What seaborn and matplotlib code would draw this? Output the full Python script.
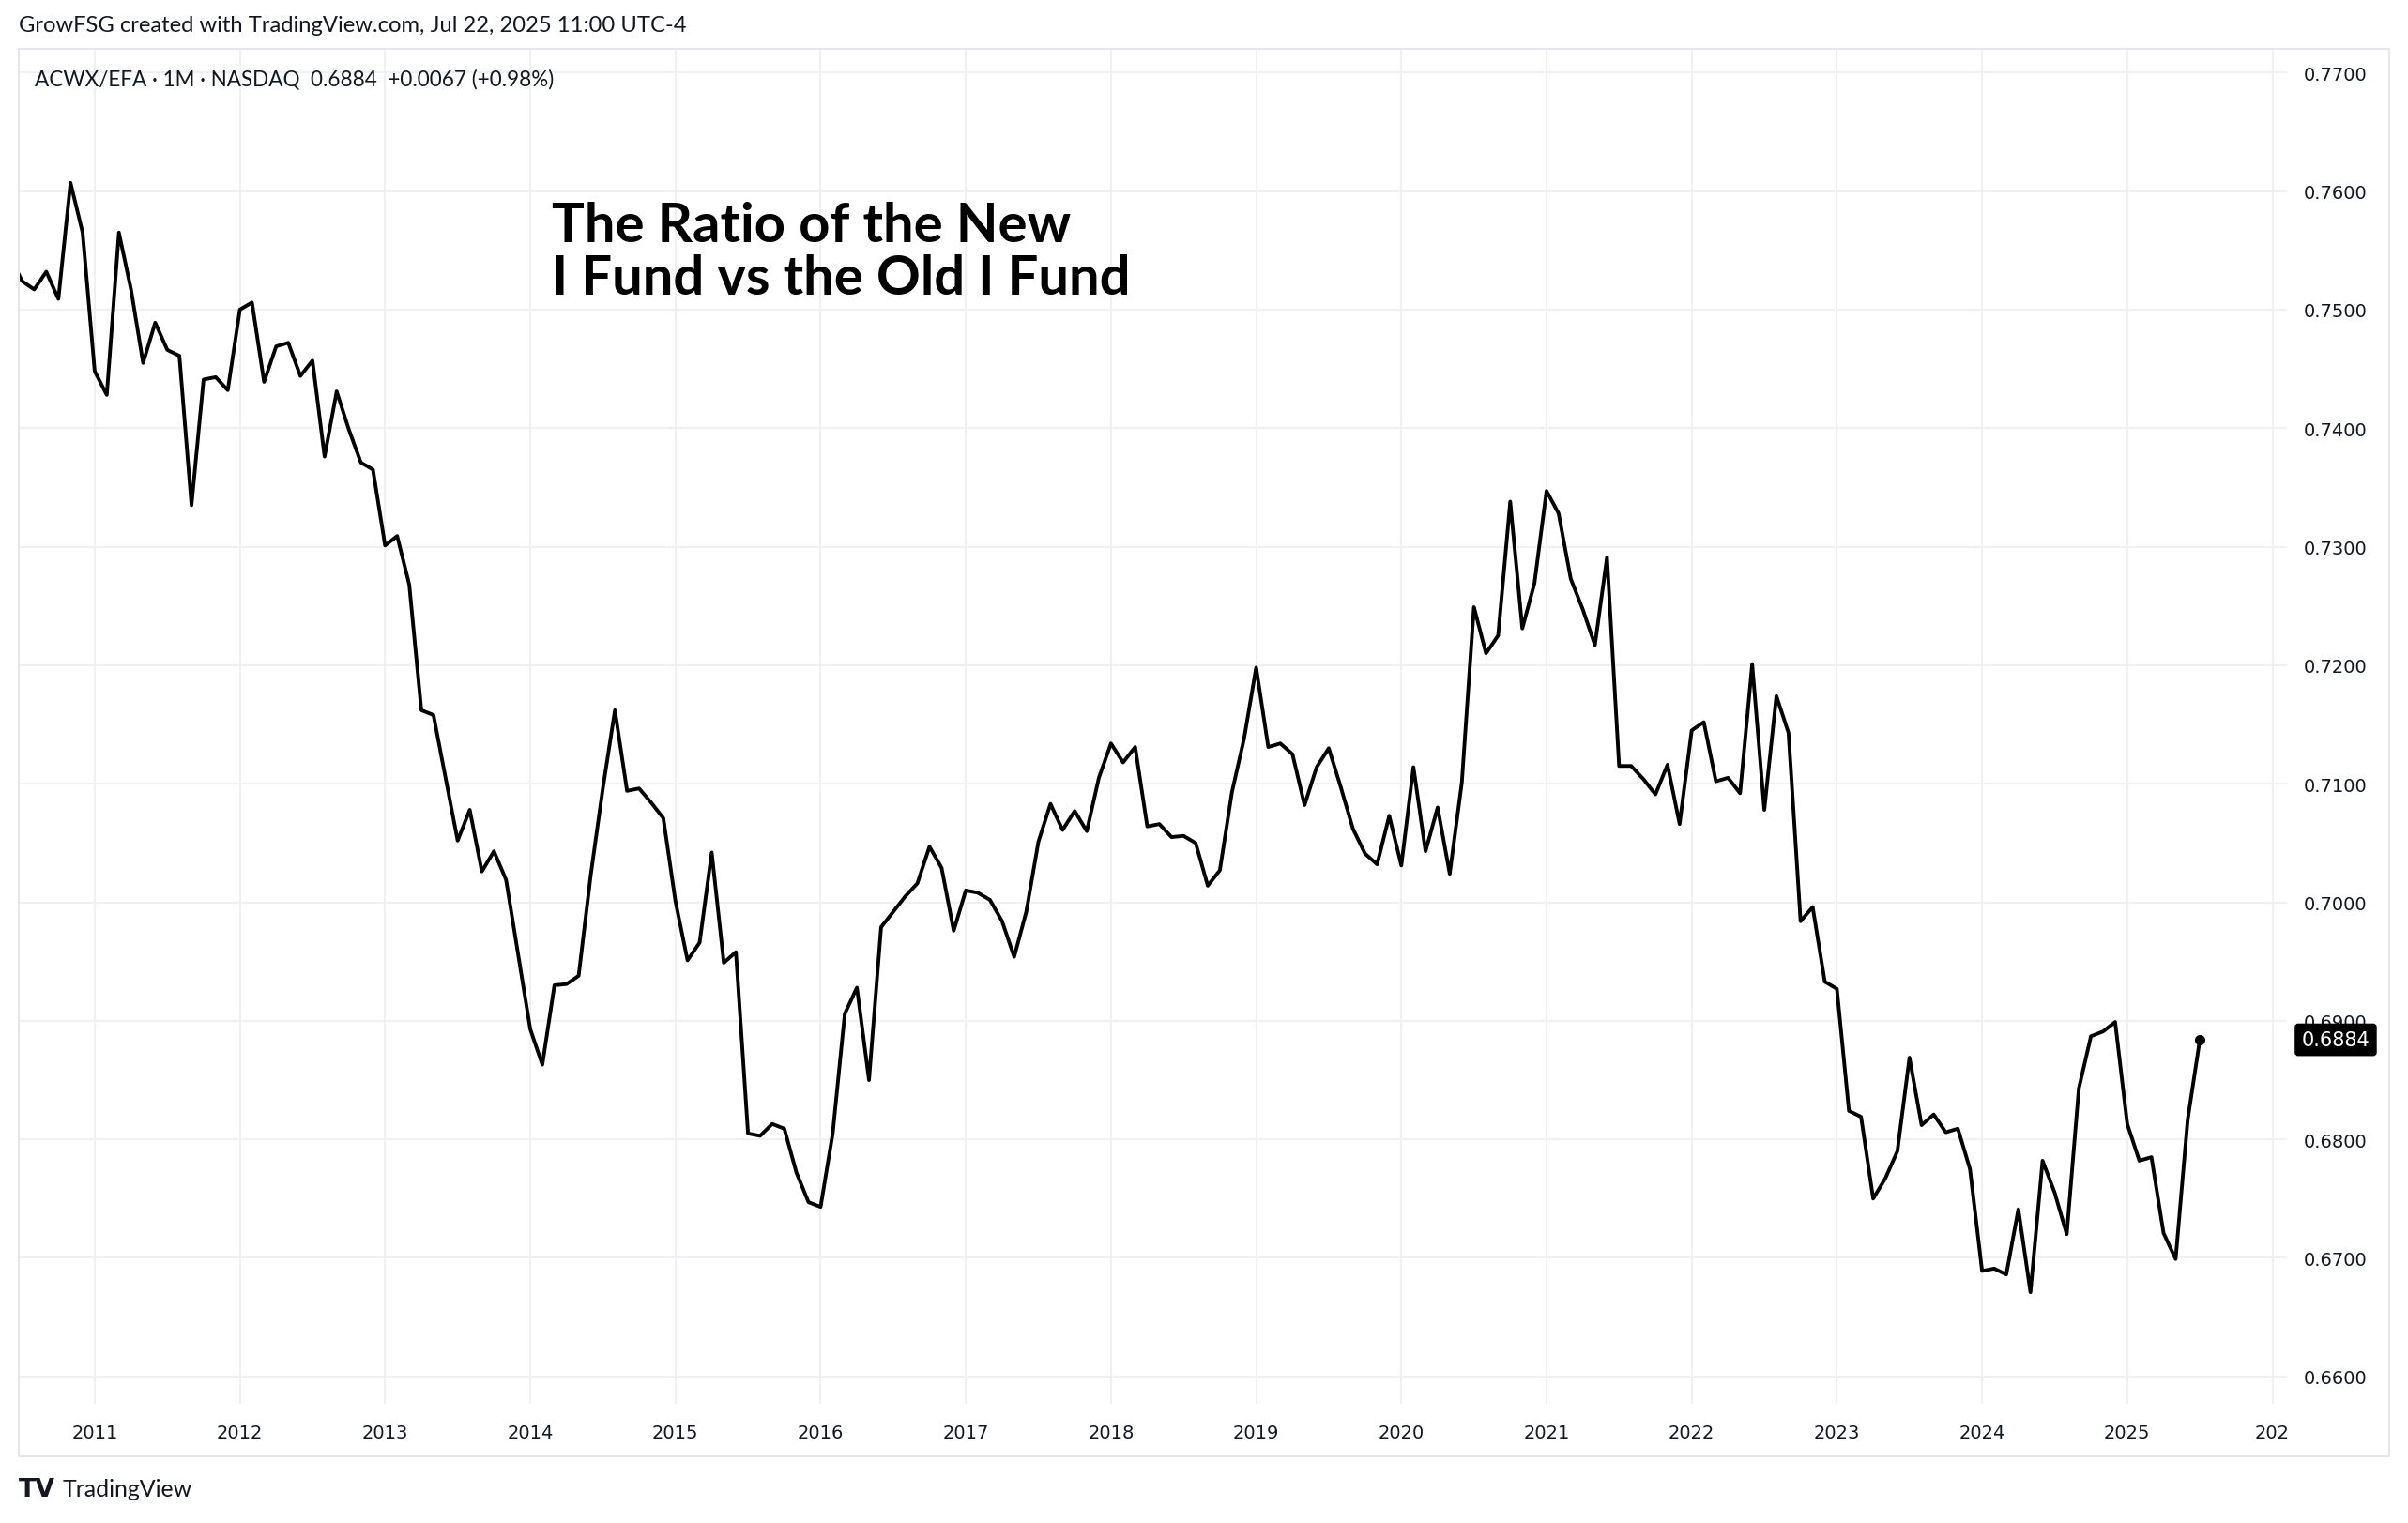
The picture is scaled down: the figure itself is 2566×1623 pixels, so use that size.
import numpy as np
import pandas as pd
import matplotlib
matplotlib.use("Agg")
import matplotlib.pyplot as plt
import matplotlib.patches as patches
import seaborn as sns

# ---------------------------------------------------------------------
# Dados: ACWX/EFA mensal (jun/2010 -> jul/2025)
# ---------------------------------------------------------------------
start_month = "2010-06"
ratio = [
    0.7545, 0.7524, 0.7517, 0.7532, 0.7509, 0.7607, 0.7565,
    0.7448, 0.7428, 0.7565, 0.7517, 0.7455, 0.7489, 0.7466, 0.7461, 0.7335, 0.7441, 0.7443, 0.7432,
    0.7500, 0.7506, 0.7439, 0.7469, 0.7472, 0.7444, 0.7457, 0.7376, 0.7431, 0.7399, 0.7371, 0.7365,
    0.7301, 0.7309, 0.7268, 0.7162, 0.7158, 0.7105, 0.7052, 0.7078, 0.7026, 0.7043, 0.7019, 0.6956,
    0.6893, 0.6863, 0.6930, 0.6931, 0.6938, 0.7023, 0.7096, 0.7162, 0.7094, 0.7096, 0.7084, 0.7071,
    0.7001, 0.6951, 0.6966, 0.7042, 0.6949, 0.6958, 0.6805, 0.6803, 0.6813, 0.6809, 0.6772, 0.6747,
    0.6743, 0.6805, 0.6906, 0.6928, 0.6850, 0.6979, 0.6992, 0.7005, 0.7016, 0.7047, 0.7029, 0.6976,
    0.7010, 0.7008, 0.7002, 0.6984, 0.6954, 0.6992, 0.7051, 0.7083, 0.7061, 0.7077, 0.7060, 0.7105,
    0.7134, 0.7118, 0.7131, 0.7064, 0.7066, 0.7055, 0.7056, 0.7050, 0.7014, 0.7027, 0.7093, 0.7138,
    0.7198, 0.7131, 0.7134, 0.7125, 0.7082, 0.7114, 0.7130, 0.7097, 0.7062, 0.7041, 0.7032, 0.7073,
    0.7031, 0.7114, 0.7043, 0.7080, 0.7024, 0.7101, 0.7249, 0.7210, 0.7225, 0.7338, 0.7231, 0.7269,
    0.7347, 0.7328, 0.7273, 0.7247, 0.7217, 0.7291, 0.7115, 0.7115, 0.7104, 0.7091, 0.7116, 0.7066,
    0.7145, 0.7152, 0.7102, 0.7105, 0.7092, 0.7201, 0.7078, 0.7174, 0.7143, 0.6984, 0.6996, 0.6933,
    0.6927, 0.6824, 0.6819, 0.6750, 0.6767, 0.6790, 0.6869, 0.6812, 0.6821, 0.6806, 0.6809, 0.6775,
    0.6689, 0.6691, 0.6686, 0.6741, 0.6671, 0.6782, 0.6755, 0.6720, 0.6843, 0.6887, 0.6891, 0.6899,
    0.6813, 0.6782, 0.6785, 0.6721, 0.6699, 0.6817, 0.6884,
]
year_ticks = list(range(2011, 2027))
year_labels = [str(y) for y in range(2011, 2026)] + ["202"]
price_ticks = [0.66, 0.67, 0.68, 0.69, 0.70, 0.71, 0.72, 0.73, 0.74, 0.75, 0.76, 0.77]

header = "GrowFSG created with TradingView.com, Jul 22, 2025 11:00 UTC-4"
legend_txt = "ACWX/EFA \u00b7 1M \u00b7 NASDAQ  0.6884  +0.0067 (+0.98%)"
titulo_1 = "The Ratio of the New"
titulo_2 = "I Fund vs the Old I Fund"
# ---------------------------------------------------------------------

datas = pd.period_range(start=start_month, periods=len(ratio), freq="M")
df = pd.DataFrame({"t": datas.year + (datas.month - 1) / 12.0, "ratio": ratio})

W, H = 2566, 1624
sns.set_theme(style="white")
plt.rcParams["font.family"] = ["DejaVu Sans"]
FONTE_TV = ["Lato", "DejaVu Sans"]

fig = plt.figure(figsize=(W / 100, H / 100), dpi=100)
fig.patch.set_facecolor("white")
renderer = fig.canvas.get_renderer()


def texto(xpx, ypx, s, largura=None, **kw):
    """Texto em coordenadas de pixel; ajusta o tamanho para a largura desejada."""
    t = fig.text(xpx / W, 1 - ypx / H, s, **kw)
    if largura is not None:
        w = t.get_window_extent(renderer).width
        t.set_fontsize(t.get_fontsize() * largura / w)
    return t


# area do grafico (pixels -> fracao)
x0, x1, y0, y1 = 20, 2437, 53, 1497
ax = fig.add_axes([x0 / W, 1 - y1 / H, (x1 - x0) / W, (y1 - y0) / H])

grid_c = "#eff0f3"
for yv in price_ticks:
    ax.axhline(yv, color=grid_c, lw=1.5, zorder=0)
for xv in year_ticks:
    ax.axvline(xv, color=grid_c, lw=1.5, zorder=0)

sns.lineplot(data=df, x="t", y="ratio", color="black", lw=2.8, ax=ax, zorder=3)
ax.plot(df["t"].iloc[-1], df["ratio"].iloc[-1], "o", color="black", ms=7, zorder=4)

ax.set_xlim(2010.477, 2026.10)
ax.set_ylim(0.65769, 0.7720)
ax.set_xlabel("")
ax.set_ylabel("")
ax.grid(False)
for s in ax.spines.values():
    s.set_visible(False)

ax.yaxis.tick_right()
ax.set_yticks(price_ticks)
ax.set_yticklabels([f"{v:.4f}" for v in price_ticks], fontsize=14, color="#131722")
ax.set_xticks(year_ticks)
ax.set_xticklabels(year_labels, fontsize=14, color="#131722")
ax.tick_params(axis="y", length=0, pad=13)
ax.tick_params(axis="x", length=0, pad=15)

# rotulo do ultimo preco
ax.annotate("0.6884", xy=(1.0215, ratio[-1]), xycoords=("axes fraction", "data"),
            ha="center", va="center", fontsize=15, color="white",
            annotation_clip=False,
            bbox=dict(boxstyle="round,pad=0.32,rounding_size=0.15", fc="black", ec="black"))

# titulo dentro do grafico (duas linhas, linha de base fixa)
texto(588, 258, titulo_1, fontsize=40, fontweight="bold", family=FONTE_TV,
      color="black", ha="left", va="baseline", largura=553)
texto(588, 314, titulo_2, fontsize=40, fontweight="bold", family=FONTE_TV,
      color="black", ha="left", va="baseline", largura=617)

# textos de cabecalho / legenda
texto(20, 28, header, fontsize=16, family=FONTE_TV, color="#131722",
      ha="left", va="center", largura=715)
texto(37, 85, legend_txt, fontsize=15, family=FONTE_TV, color="#131722",
      ha="left", va="center", largura=555)

# moldura
fig.add_artist(patches.Rectangle((20 / W, 1 - 1553 / H), (2546 - 20) / W, (1553 - 53) / H,
                                 transform=fig.transFigure, fill=False, ec="#e6e7ea", lw=1.5))

# logo TradingView
texto(20, 1588, "TV", fontsize=18, fontweight="heavy", color="#131722",
      ha="left", va="center", largura=39)
texto(67, 1588, "TradingView", fontsize=18, family=FONTE_TV, color="#131722",
      ha="left", va="center", largura=138)

fig.savefig("out.png", dpi=100)
plt.close(fig)
